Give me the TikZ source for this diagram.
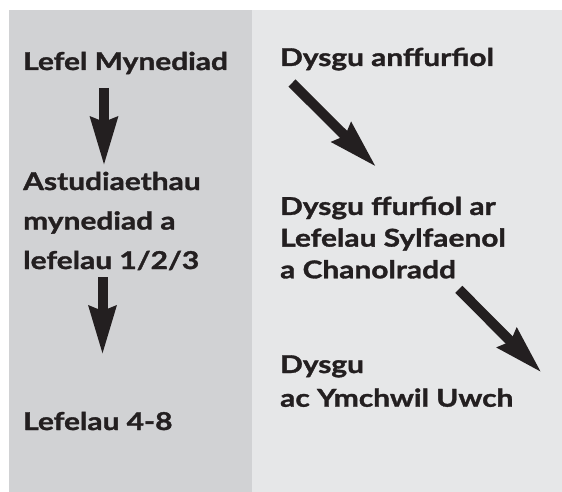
\documentclass[tikz,border=0pt]{standalone}
\usepackage{fontspec}
\setmainfont{Lato}[FakeStretch=1.22, FakeBold=1.4]
\usetikzlibrary{arrows.meta}
\definecolor{panelleft}{HTML}{D1D2D4}
\definecolor{panelright}{HTML}{E6E7E8}
\definecolor{inkblack}{HTML}{231F20}
\tikzset{
  lvltxt/.style={anchor=base west, inner sep=0pt, text=inkblack, align=left,
    font=\fontsize{24.5}{39.5}\selectfont\bfseries},
  rgttxt/.style={lvltxt, font=\fontsize{24.5}{31.7}\selectfont\bfseries},
  bigarrow/.style={draw=inkblack, line width=10pt,
    -{Stealth[length=48pt,width=26pt,inset=4pt]}}
}

\begin{document}
\begin{tikzpicture}[x=1pt,y=-1pt]
			%%%%% START %%%%%
			
			\useasboundingbox (0, 0) rectangle (562, 492);
			\fill[panelleft] (9, 10) rectangle (252, 492);
			\fill[panelright] (252, 10) rectangle (562, 492);
			
			% left column (base = last line)
			\node[lvltxt] (lefelmyn) at (23, 70) {Lefel Mynediad};
			\node[lvltxt] (astud) at (23, 269) {Astudiaethau\\mynediad a\\lefelau 1/2/3};
			\node[lvltxt] (lefel48) at (23, 430) {Lefelau 4-8};
			
			\coordinate (a1s) at (104, 88);
			\coordinate (a1e) at (104, 166);
			\coordinate (a2s) at (102.5, 277);
			\coordinate (a2e) at (102.5, 355);
			\draw[bigarrow] (a1s) -- (a1e);
			\draw[bigarrow] (a2s) -- (a2e);
			
			% right column
			\node[rgttxt] (anffurf) at (280, 66) {Dysgu anffurfiol};
			\node[rgttxt] (ffurf) at (280, 278.3) {Dysgu ffurfiol ar\\Lefelau Sylfaenol\\a Chanolradd};
			\node[rgttxt, font=\fontsize{24.5}{33.7}\selectfont\bfseries] (uwch) at (280, 406.7) {Dysgu\\ac Ymchwil Uwch};
			
			\coordinate (a3s) at (292, 83);
			\coordinate (a3e) at (376.3, 167);
			\coordinate (a4s) at (458.8, 289.3);
			\coordinate (a4e) at (541.7, 372.7);
			\draw[bigarrow] (a3s) -- (a3e);
			\draw[bigarrow] (a4s) -- (a4e);
			
			%%%%% END %%%%%
\end{tikzpicture}
\end{document}
